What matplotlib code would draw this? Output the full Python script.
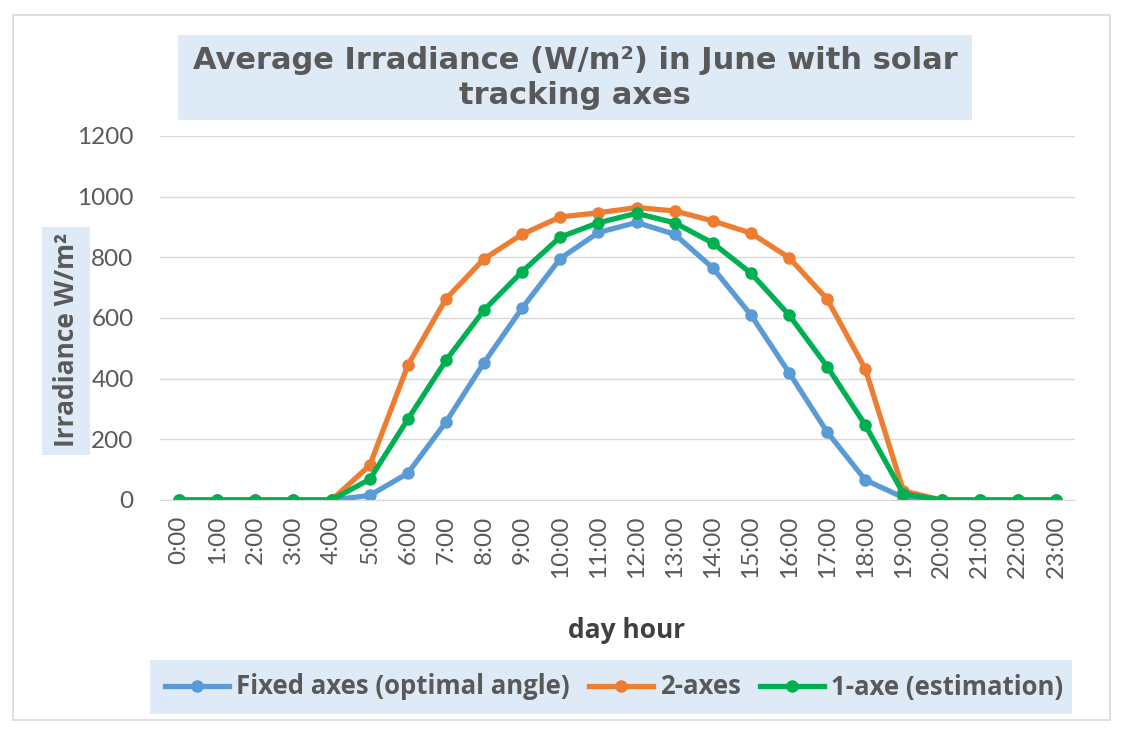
import matplotlib.pyplot as plt
from matplotlib.patches import Rectangle

hours = ['%d:00' % h for h in range(24)]
fixed_axes = [0, 0, 0, 0, 0, 15, 88, 257, 453, 633, 796, 882, 915, 876, 765, 610, 420, 224, 66, 8, 0, 0, 0, 0]
two_axes = [0, 0, 0, 0, 0, 114, 444, 663, 795, 876, 933, 947, 964, 953, 920, 880, 799, 662, 432, 30, 0, 0, 0, 0]
one_axe = [0, 0, 0, 0, 0, 68, 266, 460, 626, 753, 867, 914, 945, 914, 847, 748, 610, 440, 247, 20, 0, 0, 0, 0]

W, H = 1121, 733
fig = plt.figure(figsize=(W / 100, H / 100), dpi=100)
fig.patch.set_facecolor('white')

def box(x0, y0, x1, y1, **kw):
    # pixel coords (top-left origin) -> figure fraction
    fig.patches.append(Rectangle((x0 / W, 1 - y1 / H), (x1 - x0) / W, (y1 - y0) / H,
                                 transform=fig.transFigure, **kw))

box(13, 15, 1110, 720, facecolor='none', edgecolor='#D9D9D9', lw=1.2)
box(178, 35, 972, 120, facecolor='#DEEBF7', edgecolor='none')
box(42, 227, 90, 455, facecolor='#DEEBF7', edgecolor='none')
box(150, 660, 1072, 714, facecolor='#DEEBF7', edgecolor='none')

ax = fig.add_axes([160 / W, 1 - 500 / H, (1075 - 160) / W, (500 - 136) / H])
x = range(len(hours))
ax.plot(x, fixed_axes, color='#5B9BD5', lw=3.8, marker='o', ms=8, label='Fixed axes (optimal angle)')
ax.plot(x, two_axes, color='#ED7D31', lw=3.8, marker='o', ms=8, label='2-axes')
ax.plot(x, one_axe, color='#00B050', lw=3.8, marker='o', ms=8, label='1-axe (estimation)')

ax.set_xlim(-0.5, 23.5)
ax.set_ylim(0, 1200)
ax.set_yticks(range(0, 1201, 200))
ax.set_xticks(list(x))
ax.set_xticklabels(hours, rotation=90)
ax.grid(axis='y', color='#D9D9D9', lw=1)
ax.set_axisbelow(True)
for s in ['top', 'right', 'left']:
    ax.spines[s].set_visible(False)
ax.spines['bottom'].set_color('#D9D9D9')
ax.tick_params(length=0, labelsize=17.5, labelcolor='#595959')
ax.tick_params(axis='x', pad=11)
ax.tick_params(axis='y', pad=19)
for lab in ax.get_xticklabels() + ax.get_yticklabels():
    lab.set_family('Lato')

fig.text(575 / W, 1 - 78 / H, 'Average Irradiance (W/m²) in June with solar\ntracking axes',
         ha='center', va='center', fontsize=22, fontweight='bold', color='#595959',
         family='DejaVu Sans', linespacing=1.22)
fig.text(66 / W, 1 - 340 / H, 'Irradiance W/m²', rotation=90, ha='center', va='center',
         fontsize=19, fontweight='bold', color='#595959', family='Open Sans')
fig.text(627 / W, 1 - 630 / H, 'day hour', ha='center', va='center',
         fontsize=19, fontweight='bold', color='#404040', family='Open Sans')

fig.legend(loc='center', bbox_to_anchor=(614 / W, 1 - 687 / H), ncol=3, frameon=False,
           prop={'family': 'Open Sans', 'weight': 'bold', 'size': 18.5}, labelcolor='#595959',
           handlelength=2.5, handletextpad=0.27, columnspacing=0.75)

fig.savefig('out.png', dpi=100)
